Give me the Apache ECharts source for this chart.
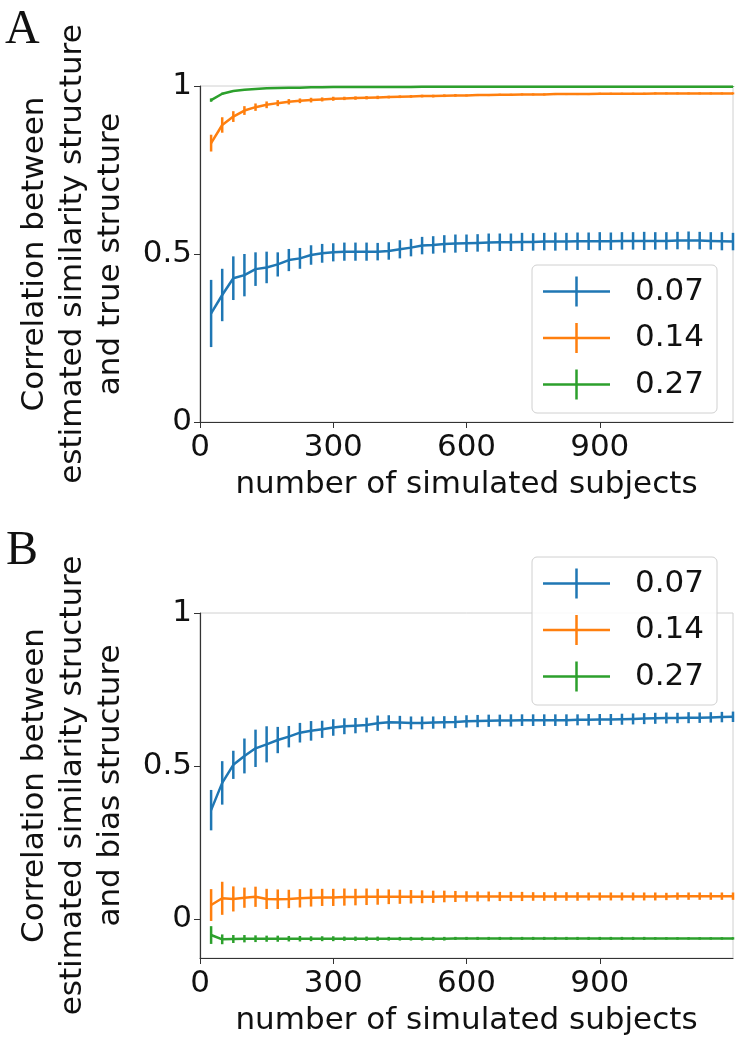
<!DOCTYPE html>
<html>
<head>
<meta charset="utf-8">
<script src="https://cdn.jsdelivr.net/npm/echarts@6/dist/echarts.min.js"></script>
<style>
html,body{margin:0;padding:0;background:#fff;}
#chart{width:750px;height:1052px;}
</style>
</head>
<body>
<div id="chart"></div>
<script>
// ---- data ----
const subjects = [25,50,75,100,125,150,175,200,225,250,275,300,325,350,375,400,425,450,475,500,525,550,575,600,
  625,650,675,700,725,750,775,800,825,850,875,900,925,950,975,1000,1025,1050,1075,1100,1125,1150,1175,1200];
const seriesNames = ['0.07','0.14','0.27'];
const xTickValues = [0,300,600,900];
const yTickValues = [0,0.5,1];

// Panel A: correlation with true structure
const aMean007 = [0.323,0.378,0.428,0.437,0.455,0.460,0.469,0.482,0.487,0.497,0.502,0.505,0.507,0.507,0.507,0.507,0.509,0.514,0.519,0.525,0.527,0.530,0.531,0.532,
  0.533,0.534,0.535,0.535,0.536,0.536,0.537,0.537,0.537,0.538,0.538,0.538,0.538,0.539,0.539,0.539,0.539,0.539,0.540,0.540,0.540,0.539,0.538,0.537];
const aErr007 = [0.100,0.078,0.065,0.063,0.050,0.047,0.036,0.033,0.031,0.029,0.028,0.027,0.027,0.027,0.027,0.026,0.026,0.027,0.026,0.026,0.026,0.026,0.027,0.026,
  0.026,0.027,0.026,0.026,0.027,0.026,0.026,0.027,0.026,0.026,0.026,0.027,0.026,0.026,0.026,0.027,0.026,0.026,0.026,0.027,0.026,0.026,0.027,0.026];
const aMean014 = [0.830,0.884,0.909,0.927,0.937,0.944,0.949,0.953,0.956,0.958,0.960,0.962,0.963,0.964,0.965,0.966,0.967,0.968,0.969,0.970,0.970,0.971,0.972,0.972,
  0.973,0.973,0.974,0.974,0.975,0.975,0.975,0.976,0.976,0.976,0.976,0.977,0.977,0.977,0.977,0.977,0.978,0.978,0.978,0.978,0.978,0.978,0.978,0.978];
const aErr014 = [0.025,0.023,0.016,0.013,0.011,0.010,0.009,0.008,0.007,0.007,0.006,0.006,0.005,0.005,0.005,0.005,0.004,0.004,0.004,0.004,0.004,0.004,0.004,0.003,
  0.003,0.003,0.003,0.003,0.003,0.003,0.003,0.003,0.003,0.003,0.003,0.003,0.003,0.003,0.003,0.003,0.003,0.003,0.003,0.003,0.003,0.003,0.003,0.003];
const aMean027 = [0.958,0.977,0.985,0.989,0.991,0.993,0.994,0.995,0.995,0.996,0.996,0.997,0.997,0.997,0.997,0.997,0.997,0.997,0.997,0.998,0.998,0.998,0.998,0.998,
  0.998,0.998,0.998,0.998,0.998,0.998,0.998,0.998,0.998,0.998,0.998,0.998,0.998,0.998,0.998,0.998,0.998,0.998,0.998,0.998,0.998,0.998,0.998,0.998];
const aErr027 = [0.005,0.003,0.002,0.002,0.002,0.001,0.001,0.001,0.001,0.001,0.001,0.001,0.001,0.001,0.001,0.001,0.001,0.001,0.001,0.001,0.001,0.001,0.001,0.001,
  0.001,0.001,0.001,0.001,0.001,0.001,0.001,0.001,0.001,0.001,0.001,0.001,0.001,0.001,0.001,0.001,0.001,0.001,0.001,0.001,0.001,0.001,0.001,0.001];

// Panel B: correlation with bias structure
const bMean007 = [0.356,0.445,0.504,0.533,0.558,0.571,0.585,0.596,0.609,0.615,0.620,0.626,0.630,0.632,0.634,0.640,0.643,0.642,0.641,0.641,0.642,0.643,0.644,0.646,
  0.647,0.648,0.649,0.649,0.650,0.650,0.650,0.650,0.650,0.651,0.651,0.652,0.652,0.653,0.654,0.655,0.656,0.657,0.657,0.658,0.658,0.659,0.660,0.661];
const bErr007 = [0.066,0.071,0.046,0.057,0.061,0.059,0.043,0.035,0.032,0.032,0.028,0.027,0.026,0.025,0.024,0.025,0.023,0.022,0.021,0.021,0.020,0.020,0.020,0.020,
  0.020,0.020,0.019,0.020,0.019,0.019,0.019,0.019,0.019,0.018,0.019,0.018,0.018,0.018,0.018,0.018,0.018,0.018,0.017,0.018,0.017,0.017,0.017,0.017];
const bMean014 = [0.046,0.068,0.066,0.070,0.073,0.066,0.065,0.066,0.068,0.070,0.071,0.071,0.072,0.072,0.073,0.073,0.073,0.073,0.073,0.073,0.073,0.074,0.074,0.074,
  0.074,0.074,0.074,0.074,0.074,0.074,0.074,0.074,0.074,0.074,0.074,0.074,0.074,0.074,0.074,0.074,0.074,0.074,0.075,0.075,0.075,0.075,0.075,0.075];
const bErr014 = [0.052,0.054,0.041,0.033,0.033,0.033,0.032,0.030,0.030,0.029,0.028,0.028,0.028,0.027,0.027,0.026,0.024,0.023,0.022,0.021,0.020,0.019,0.018,0.017,
  0.016,0.016,0.015,0.015,0.015,0.014,0.014,0.014,0.014,0.014,0.013,0.013,0.013,0.013,0.013,0.013,0.013,0.012,0.012,0.012,0.012,0.012,0.012,0.012];
const bMean027 = [-0.052,-0.066,-0.065,-0.064,-0.064,-0.064,-0.064,-0.064,-0.064,-0.064,-0.064,-0.064,-0.064,-0.064,-0.064,-0.064,-0.064,-0.064,-0.064,-0.064,-0.064,-0.064,-0.063,-0.063,
  -0.063,-0.063,-0.063,-0.063,-0.063,-0.063,-0.063,-0.063,-0.063,-0.063,-0.063,-0.063,-0.063,-0.063,-0.063,-0.063,-0.063,-0.063,-0.063,-0.063,-0.063,-0.063,-0.063,-0.063];
const bErr027 = [0.029,0.016,0.013,0.012,0.011,0.010,0.010,0.009,0.009,0.008,0.008,0.008,0.007,0.007,0.007,0.007,0.006,0.006,0.006,0.006,0.006,0.006,0.005,0.005,
  0.005,0.005,0.005,0.005,0.005,0.005,0.005,0.005,0.005,0.005,0.005,0.005,0.005,0.005,0.005,0.005,0.004,0.004,0.004,0.004,0.004,0.004,0.004,0.004];

// ---- chart ----
const colors = ['#1f77b4','#ff7f0e','#2ca02c'];
const FONT = 'DejaVu Sans';
const FS = 31;
const panels = [
  {means:[aMean007,aMean014,aMean027], errs:[aErr007,aErr014,aErr027]},
  {means:[bMean007,bMean014,bMean027], errs:[bErr007,bErr014,bErr027]}
];

function errRender(params, api) {
  const x = api.value(0);
  const p1 = api.coord([x, api.value(1)]);
  const p2 = api.coord([x, api.value(2)]);
  return {type:'line', shape:{x1:p1[0], y1:p1[1], x2:p2[0], y2:p2[1]},
    style:{stroke: api.visual('color'), lineWidth: 2.5}};
}

const series = [];
panels.forEach((p, pi) => {
  for (let k = 0; k < 3; k++) {
    series.push({
      type:'line', name: seriesNames[k], xAxisIndex: pi, yAxisIndex: pi,
      data: subjects.map((x,i) => [x, p.means[k][i]]),
      symbol:'none', showSymbol:false, color: colors[k],
      lineStyle:{width:2.5, color: colors[k]}, animation:false
    });
    series.push({
      type:'custom', name: seriesNames[k], xAxisIndex: pi, yAxisIndex: pi,
      data: subjects.map((x,i) => [x, p.means[k][i]-p.errs[k][i], p.means[k][i]+p.errs[k][i]]),
      renderItem: errRender, color: colors[k], itemStyle:{color: colors[k]},
      encode:{x:0, y:[1,2]}, clip:false, animation:false
    });
  }
});

const legendIcon = 'path://M0,13.75L67,13.75L67,16.25L0,16.25Z M32.25,0L34.75,0L34.75,30L32.25,30Z';
function makeLegend(top) {
  return {
    orient:'vertical', left:532, top: top,
    data: seriesNames.map(n => ({name:n, icon: legendIcon})),
    itemWidth:67, itemHeight:30, itemGap:15.5,
    padding:[11,13,13,11],
    backgroundColor:'rgba(255,255,255,0.85)',
    borderColor:'#d0d0d0', borderWidth:1, borderRadius:5,
    itemStyle:{borderWidth:0},
    textStyle:{fontFamily:FONT, fontSize:FS, color:'#111', padding:[0,0,0,20]},
    selectedMode:false
  };
}

function xAx(gi) {
  return {
    type:'value', gridIndex: gi, min:0, max:1200,
    name:'number of simulated subjects', nameLocation:'middle', nameGap:47,
    nameTextStyle:{fontFamily:FONT, fontSize:FS, color:'#111'},
    axisLine:{show:true, onZero:false, lineStyle:{color:'#333', width:1.2}},
    axisTick:{show:true, length:6, lineStyle:{color:'#333'}, customValues:xTickValues},
    axisLabel:{fontFamily:FONT, fontSize:FS, color:'#111', margin:10, customValues:xTickValues},
    splitLine:{show:false}
  };
}
function yAx(gi, min, nameText) {
  return {
    type:'value', gridIndex: gi, min:min, max:1,
    name:nameText, nameLocation:'middle', nameGap:70, nameRotate:90,
    nameTextStyle:{fontFamily:FONT, fontSize:FS, color:'#111', lineHeight:38, align:'center'},
    axisLine:{show:true, onZero:false, lineStyle:{color:'#333', width:1.2}},
    axisTick:{show:true, length:6, lineStyle:{color:'#333'}, customValues:yTickValues},
    axisLabel:{fontFamily:FONT, fontSize:FS, color:'#111', margin:8, customValues:yTickValues,
      formatter: v => String(v)},
    splitLine:{show:false}
  };
}

const option = {
  backgroundColor:'#fff',
  animation:false,
  grid:[
    {left:200, top:86, width:533, height:336, show:true, borderColor:'#d0d0d0', borderWidth:1, backgroundColor:'transparent'},
    {left:200, top:613, width:533, height:345, show:true, borderColor:'#d0d0d0', borderWidth:1, backgroundColor:'transparent'}
  ],
  xAxis:[xAx(0), xAx(1)],
  yAxis:[
    yAx(0, 0, 'Correlation between\nestimated similarity structure\nand true structure'),
    yAx(1, -0.127, 'Correlation between\nestimated similarity structure\nand bias structure')
  ],
  legend:[makeLegend(265), makeLegend(557)],
  graphic:[
    {type:'text', left:5, top:6, style:{text:'A', fontFamily:'Liberation Serif', fontSize:48, fill:'#111'}},
    {type:'text', left:6, top:527, style:{text:'B', fontFamily:'Liberation Serif', fontSize:48, fill:'#111'}}
  ],
  series: series
};

const chart = echarts.init(document.getElementById('chart'), null, {renderer:'canvas'});
chart.setOption(option);
</script>
</body>
</html>
